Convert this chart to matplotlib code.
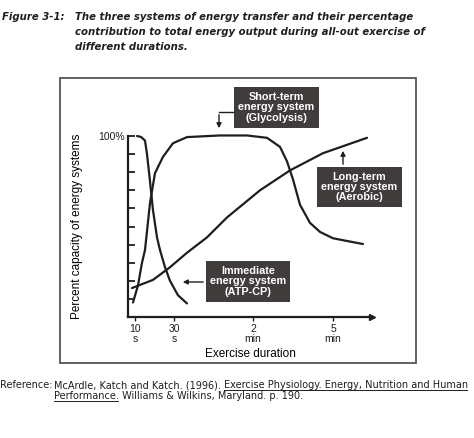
import matplotlib
matplotlib.use("Agg")
import matplotlib.pyplot as plt
from matplotlib.patches import Rectangle, FancyArrowPatch

W, H = 474, 438
INK = "#1e1e1e"
BOXC = "#403c3b"

# x positions along the (non-linear) duration axis, y = percent capacity
xticks_pos = [7, 46, 125, 205]
xtick_labels = ["10\ns", "30\ns", "2\nmin", "5\nmin"]

atp_x = [9, 13, 17, 19, 22, 25, 29, 32, 37, 42, 50, 59]
atp_y = [100, 99.5, 97.5, 90, 75, 59, 44, 37, 27.5, 20, 12, 7.5]

gly_x = [5, 10, 14, 17, 22, 27, 35, 45, 59, 92, 119, 139, 152, 159, 165, 172, 182, 192, 205, 235]
gly_y = [8, 17.5, 30, 37, 63, 79.5, 88.5, 96, 99.4, 100.3, 100.3, 99, 94, 86, 76, 62, 52, 47, 43.5, 40.3]

aer_x = [4, 25, 42, 59, 79, 99, 132, 162, 195, 239]
aer_y = [16, 20.5, 27.5, 35.5, 44, 55, 70, 81, 90.5, 99]

fig = plt.figure(figsize=(W / 100, H / 100), dpi=100)
fig.patch.set_facecolor("white")

# overlay in pixel coordinates for frame, titles, callout boxes
ov = fig.add_axes([0, 0, 1, 1])
ov.set_xlim(0, W); ov.set_ylim(H, 0); ov.axis("off")

ax = fig.add_axes([128 / W, (H - 317) / H, 244 / W, 181 / H])
ax.set_facecolor("none")
ax.set_xlim(0, 244); ax.set_ylim(0, 100)
for s in ["top", "right"]:
    ax.spines[s].set_visible(False)
for s in ["left", "bottom"]:
    ax.spines[s].set_linewidth(1.6); ax.spines[s].set_color(INK)
ax.plot(1, 0, ">", transform=ax.transAxes, color=INK, ms=5, clip_on=False)

for xs, ys in [(atp_x, atp_y), (gly_x, gly_y), (aer_x, aer_y)]:
    ax.plot(xs, ys, color=INK, lw=1.6, clip_on=False, solid_capstyle="round")

ax.set_yticks(range(10, 101, 10))
ax.set_yticklabels([""] * 9 + ["100%"], fontsize=7.5, family="Liberation Sans")
ax.tick_params(axis="y", direction="in", length=5, width=1.3, pad=2, colors=INK)
ax.set_xticks(xticks_pos)
ax.set_xticklabels(xtick_labels, fontsize=7.5, family="Liberation Sans", linespacing=1.0)
ax.tick_params(axis="x", direction="out", length=3, width=1.0, pad=2, colors=INK)
ax.set_xlabel("Exercise duration", fontsize=8.5, family="Liberation Sans", labelpad=3)
ax.set_ylabel("Percent capacity of energy systems", fontsize=8.5, family="Liberation Sans")
ax.yaxis.set_label_coords(-0.183, 0.5)

# outer frame
ov.add_patch(Rectangle((60, 78), 356, 285, fill=False, ec="#555555", lw=1.3))

# callout boxes
def callout(x0, y0, x1, y1, text):
    ov.add_patch(Rectangle((x0, y0), x1 - x0, y1 - y0, fc=BOXC, ec="none", zorder=3))
    ov.text((x0 + x1) / 2, (y0 + y1) / 2, text, ha="center", va="center", color="white",
            fontsize=7.8, fontweight="bold", family="Liberation Sans", linespacing=1.05, zorder=4)

def arrow(p1, p2):
    ov.add_patch(FancyArrowPatch(p1, p2, arrowstyle="-|>", mutation_scale=7, color=INK, lw=1.0, zorder=2))

callout(234, 87, 319, 128, "Short-term\nenergy system\n(Glycolysis)")
ov.plot([234, 219], [112, 112], color=INK, lw=1.0)
arrow((219, 112), (219, 131))

callout(317, 167, 402, 207, "Long-term\nenergy system\n(Aerobic)")
arrow((343, 167), (343, 148))

callout(206, 261, 290, 302, "Immediate\nenergy system\n(ATP-CP)")
arrow((206, 282), (180, 282))

# title
tfont = dict(fontsize=7.3, fontweight="bold", style="italic", family="DejaVu Sans", color=INK, va="center")
ov.text(2, 17, "Figure 3-1:", **tfont)
ov.text(75, 17, "The three systems of energy transfer and their percentage", **tfont)
ov.text(75, 32, "contribution to total energy output during all-out exercise of", **tfont)
ov.text(75, 47, "different durations.", **tfont)

# reference with underlined book title
rfont = dict(fontsize=7.0, family="DejaVu Sans", color=INK, va="baseline")
r = fig.canvas.get_renderer()
def seq(x, y, parts):
    for txt, ul in parts:
        t = ov.text(x, y, txt, **rfont)
        wpx = t.get_window_extent(r).width
        if ul:
            ov.plot([x, x + wpx - 1], [y + 2, y + 2], color=INK, lw=0.7)
        x += wpx
ov.text(0, 388, "Reference:", **rfont)
seq(54, 388, [("McArdle, Katch and Katch. (1996). ", False),
              ("Exercise Physiology. Energy, Nutrition and Human", True)])
seq(54, 399, [("Performance.", True), (" Williams & Wilkins, Maryland. p. 190.", False)])

fig.savefig("out.png", dpi=100, facecolor="white")
